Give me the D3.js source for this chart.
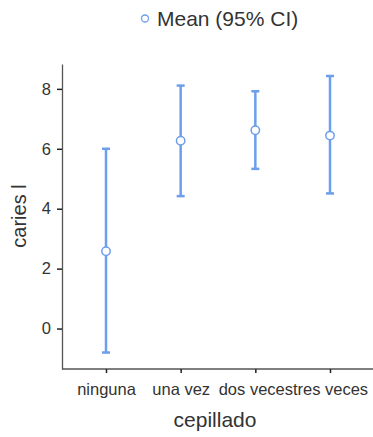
<!DOCTYPE html>
<html>
<head>
<meta charset="utf-8">
<script src="https://cdn.jsdelivr.net/npm/d3@7"></script>
<style>
  body { margin: 0; background: #fff; }
  svg { display: block; }
</style>
</head>
<body>
<div id="chart-area"></div>
<script>
var categories = ["ninguna", "una vez", "dos veces", "tres veces"]
var means = [2.58, 6.27, 6.62, 6.44]
var lower = [-0.80, 4.42, 5.33, 4.51]
var upper = [6.00, 8.11, 7.92, 8.43]
var yTicks = [0, 2, 4, 6, 8]

var W = 373, H = 437
var margin = { left: 62, right: 0, top: 64, bottom: 68 }
var width = W - margin.left - margin.right
var height = H - margin.top - margin.bottom
var blue = "#6d9eeb"
var textCol = "#333333"

var svg = d3.select("#chart-area").append("svg")
    .attr("width", W)
    .attr("height", H)
    .style("font-family", "Liberation Sans, Arial, sans-serif")

var g = svg.append("g")
    .attr("transform", "translate(" + margin.left + "," + margin.top + ")")

var xScale = d3.scalePoint()
    .domain(categories)
    .range([44, 268])

var yScale = d3.scaleLinear()
    .domain([-1.35, 8.83])
    .range([height, 0])

// Y Axis
var yAxisGroup = g.append("g")
    .call(d3.axisLeft(yScale).tickValues(yTicks).tickSize(5).tickPadding(6).tickSizeOuter(0))
yAxisGroup.select(".domain").attr("stroke", "#555").attr("stroke-width", 1.3)
yAxisGroup.selectAll(".tick line").attr("stroke", "#222").attr("stroke-width", 1.5)
yAxisGroup.selectAll("text").style("font-size", "16.5px").attr("fill", textCol)

// X Axis
var xAxisGroup = g.append("g")
    .attr("transform", "translate(0," + height + ")")
    .call(d3.axisBottom(xScale).tickSize(4).tickPadding(10).tickSizeOuter(0))
xAxisGroup.select(".domain").attr("d", "M0,0H" + width).attr("stroke", "#555").attr("stroke-width", 1.3)
xAxisGroup.selectAll(".tick line").attr("stroke", "#222").attr("stroke-width", 1.5)
xAxisGroup.selectAll("text").style("font-size", "16.5px").attr("fill", textCol)

// Axis labels
svg.append("text")
    .attr("transform", "rotate(-90)")
    .attr("x", -216)
    .attr("y", 26)
    .style("text-anchor", "middle")
    .style("font-size", "20px")
    .attr("fill", textCol)
    .text("caries l")

svg.append("text")
    .attr("x", 215)
    .attr("y", 427)
    .style("text-anchor", "middle")
    .style("font-size", "21px")
    .attr("fill", textCol)
    .text("cepillado")

// Error bars
var bars = g.selectAll(".ci").data(categories).enter().append("g").attr("class", "ci")
bars.append("line")
    .attr("x1", function(d) { return xScale(d) })
    .attr("x2", function(d) { return xScale(d) })
    .attr("y1", function(d, i) { return yScale(lower[i]) })
    .attr("y2", function(d, i) { return yScale(upper[i]) })
    .attr("stroke", blue).attr("stroke-width", 2.5)
bars.append("line")
    .attr("x1", function(d) { return xScale(d) - 4 })
    .attr("x2", function(d) { return xScale(d) + 4 })
    .attr("y1", function(d, i) { return yScale(upper[i]) })
    .attr("y2", function(d, i) { return yScale(upper[i]) })
    .attr("stroke", blue).attr("stroke-width", 2.5)
bars.append("line")
    .attr("x1", function(d) { return xScale(d) - 4 })
    .attr("x2", function(d) { return xScale(d) + 4 })
    .attr("y1", function(d, i) { return yScale(lower[i]) })
    .attr("y2", function(d, i) { return yScale(lower[i]) })
    .attr("stroke", blue).attr("stroke-width", 2.5)
bars.append("circle")
    .attr("cx", function(d) { return xScale(d) })
    .attr("cy", function(d, i) { return yScale(means[i]) })
    .attr("r", 4.2)
    .attr("fill", "#fff")
    .attr("stroke", blue).attr("stroke-width", 1.5)

// Legend
var legend = svg.append("g")
legend.append("circle")
    .attr("cx", 145).attr("cy", 18.5).attr("r", 3.5)
    .attr("fill", "#fff").attr("stroke", blue).attr("stroke-width", 1.3)
legend.append("text")
    .attr("x", 157).attr("y", 26)
    .style("font-size", "21px")
    .attr("fill", textCol)
    .text("Mean (95% CI)")
</script>
</body>
</html>
